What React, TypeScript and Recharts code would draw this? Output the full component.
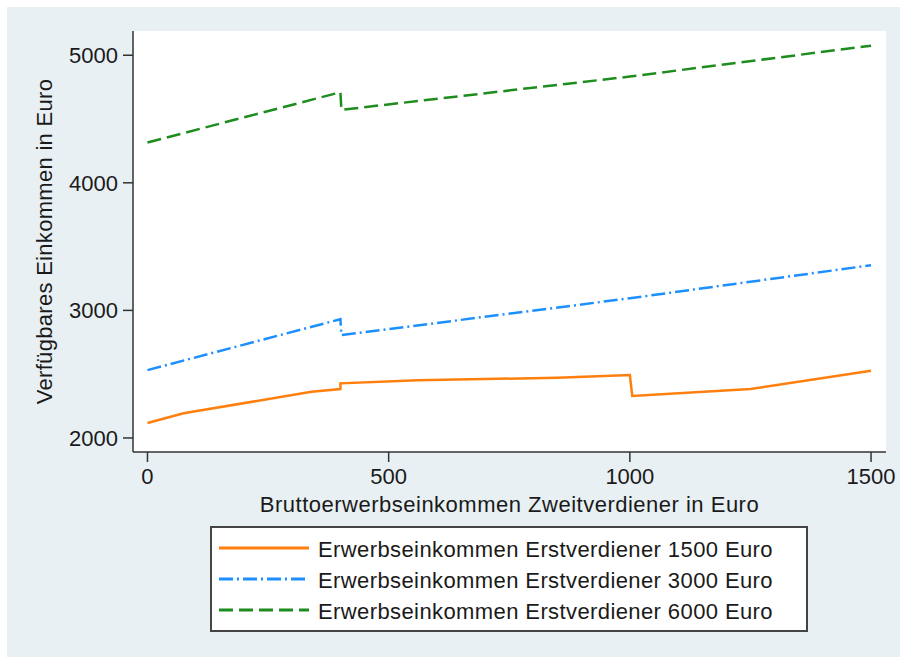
import React from 'react';
import { LineChart, Line, XAxis, YAxis, Legend } from 'recharts';

// Bruttoerwerbseinkommen Zweitverdiener (x) und verfügbares Einkommen (y)
const lowX = [0, 75, 340, 400, 400, 560, 850, 1000, 1005, 1250, 1500];
const lowY = [2117, 2193, 2362, 2383, 2428, 2452, 2472, 2493, 2329, 2383, 2527];

const midX = [0, 400, 402, 1000, 1500];
const midY = [2532, 2931, 2806, 3095, 3354];

const highX = [0, 400, 402, 1000, 1500];
const highY = [4316, 4710, 4572, 4833, 5075];

const xTicks = [0, 500, 1000, 1500];
const yTicks = [2000, 3000, 4000, 5000];

const seriesNames = [
  'Erwerbseinkommen Erstverdiener 1500 Euro',
  'Erwerbseinkommen Erstverdiener 3000 Euro',
  'Erwerbseinkommen Erstverdiener 6000 Euro',
];

const toPoints = (xs: number[], ys: number[]) => xs.map((x, i) => ({ x, y: ys[i] }));

const FONT = '"Liberation Sans", Arial, sans-serif';
const TEXT = '#1a1a1a';

const styles = [
  { color: '#ff7f0e', dash: undefined as string | undefined },
  { color: '#1e8fff', dash: '14 4 2 4' },
  { color: '#1e8c1e', dash: '14 6' },
];

const LegendBox = () => (
  <div
    style={{
      width: 598,
      height: 106,
      border: '2px solid #444',
      background: '#fff',
      boxSizing: 'border-box',
      paddingTop: 6,
      fontFamily: FONT,
    }}
  >
    {seriesNames.map((name, i) => (
      <div key={name} style={{ display: 'flex', alignItems: 'center', height: 31 }}>
        <svg width={96} height={10} style={{ marginLeft: 5 }}>
          <line
            x1={2}
            x2={92}
            y1={3}
            y2={3}
            stroke={styles[i].color}
            strokeWidth={3}
            strokeDasharray={styles[i].dash}
          />
        </svg>
        <span style={{ marginLeft: 5, fontSize: 22, color: TEXT, letterSpacing: 0.4 }}>{name}</span>
      </div>
    ))}
  </div>
);

export default function App() {
  const series = [toPoints(lowX, lowY), toPoints(midX, midY), toPoints(highX, highY)];

  return (
    <div style={{ position: 'absolute', left: 0, top: 0, width: 900, height: 657, background: '#fff' }}>
      <div style={{ position: 'absolute', left: 7, top: 7, width: 893, height: 650, background: '#e8f0f3' }} />
      <div style={{ position: 'absolute', left: 0, top: 0 }}>
        <LineChart width={900} height={657} margin={{ top: 31, right: 14, left: 0, bottom: 0 }}>
          <rect x={133} y={31} width={753} height={421} fill="#fff" />
          <XAxis
            type="number"
            dataKey="x"
            domain={[-30, 1531]}
            ticks={xTicks}
            height={205}
            stroke="#333"
            strokeWidth={1.5}
            tickSize={10}
            tickMargin={6}
            tick={{ fontSize: 22, fill: TEXT, fontFamily: FONT }}
            allowDataOverflow
            label={{
              content: (props: any) => {
                const vb = props.viewBox;
                return (
                  <text
                    x={vb.x + vb.width / 2}
                    y={vb.y + 60}
                    textAnchor="middle"
                    fontSize={22}
                    fill={TEXT}
                    fontFamily={FONT}
                    letterSpacing={0.5}
                  >
                    Bruttoerwerbseinkommen Zweitverdiener in Euro
                  </text>
                );
              },
            }}
          />
          <YAxis
            type="number"
            dataKey="y"
            domain={[1890, 5190]}
            ticks={yTicks}
            width={133}
            stroke="#333"
            strokeWidth={1.5}
            tickSize={10}
            tickMargin={5}
            tick={{ fontSize: 22, fill: TEXT, fontFamily: FONT }}
            allowDataOverflow
            label={{
              content: (props: any) => {
                const vb = props.viewBox;
                const cy = vb.y + vb.height / 2;
                return (
                  <text
                    x={52}
                    y={cy}
                    transform={`rotate(-90 52 ${cy})`}
                    textAnchor="middle"
                    fontSize={22}
                    fill={TEXT}
                    fontFamily={FONT}
                    letterSpacing={0.3}
                  >
                    Verfügbares Einkommen in Euro
                  </text>
                );
              },
            }}
          />
          {series.map((data, i) => (
            <Line
              key={seriesNames[i]}
              data={data}
              dataKey="y"
              name={seriesNames[i]}
              type="linear"
              stroke={styles[i].color}
              strokeWidth={2.5}
              strokeDasharray={styles[i].dash}
              dot={false}
              activeDot={false}
              isAnimationActive={false}
            />
          ))}
          <Legend
            layout="vertical"
            align="center"
            verticalAlign="middle"
            wrapperStyle={{ left: 210, top: 526, width: 598, height: 106 }}
            content={() => <LegendBox />}
          />
        </LineChart>
      </div>
    </div>
  );
}
